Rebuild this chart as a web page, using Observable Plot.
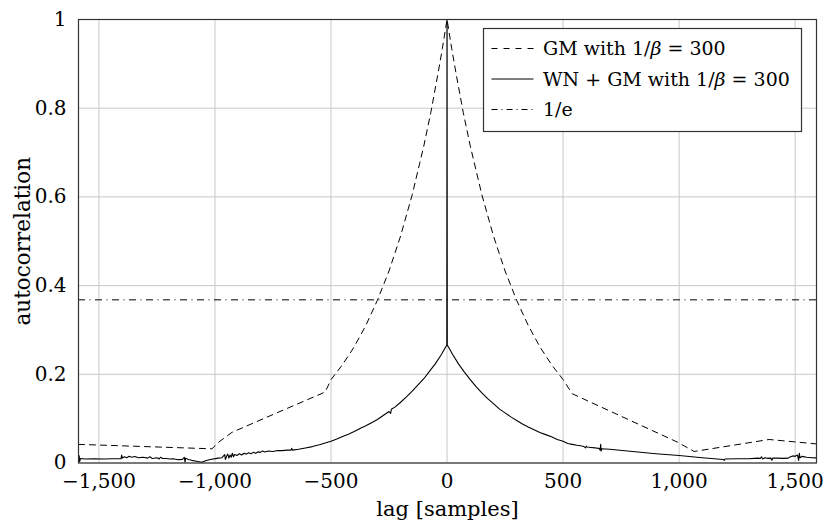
<!DOCTYPE html>
<html>
<head>
<meta charset="utf-8">
<script src="https://cdn.jsdelivr.net/npm/d3@7"></script>
<script src="https://cdn.jsdelivr.net/npm/@observablehq/plot@0.6"></script>
<style>
  html, body { margin: 0; padding: 0; background: #fff; }
  #chart { width: 824px; height: 522px; }
</style>
</head>
<body>
<div id="chart"></div>
<script>
// ---- data ----
const xTicks = [-1500, -1000, -500, 0, 500, 1000, 1500];
const yTicks = [0, 0.2, 0.4, 0.6, 0.8, 1];
const xLabel = "lag [samples]";
const yLabel = "autocorrelation";
const invE = 0.3679;

// GM with 1/beta = 300 (dashed)
const gmLag = [-1588, -1013, -984, -927, -725, -525, -500, -450, -400, -350, -300, -250, -200, -150, -100, -70, -40, -20, 0,
  20, 40, 70, 100, 150, 200, 250, 300, 350, 400, 450, 500, 540, 993, 1065, 1388, 1592];
const gmVal = [0.042, 0.032, 0.047, 0.069, 0.115, 0.160, 0.188, 0.222, 0.262, 0.310, 0.367, 0.433, 0.512, 0.605, 0.715, 0.790, 0.875, 0.935, 1.0,
  0.935, 0.875, 0.790, 0.715, 0.605, 0.512, 0.433, 0.367, 0.310, 0.262, 0.222, 0.188, 0.156, 0.047, 0.026, 0.053, 0.043];

// WN + GM with 1/beta = 300 (solid)
const wnLag = [
  -1588, -1585, -1583, -1580, -1560, -1520, -1480, -1440, -1405, -1402, -1399, -1390, -1380, -1370, -1360, -1345, -1330, -1310,
  -1290, -1280, -1270, -1250, -1240, -1235, -1225, -1210, -1195, -1180, -1160, -1140, -1132, -1129, -1126, -1115, -1100, -1080,
  -1058, -1040, -1020, -992, -985, -970, -958, -955, -950, -945, -940, -935, -930, -925, -920, -915, -905, -895, -885, -875,
  -865, -855, -845, -835, -825, -815, -805, -795, -785, -770, -750, -730, -710, -690, -672, -669, -666, -640, -610, -580,
  -550, -525, -500, -475, -450, -425, -400, -375, -350, -325, -300, -275, -250, -243, -240, -225, -200, -175, -150, -125,
  -100, -75, -50, -25, -1, 0, 1, 25, 50, 75, 100, 125, 150, 175, 200, 225, 250, 275, 300, 325, 350, 375, 400, 425, 450,
  475, 500, 520, 540, 560, 575, 590, 597, 600, 603, 620, 640, 655, 660, 662, 664, 666, 700, 800, 900, 1000, 1100, 1190,
  1194, 1198, 1250, 1300, 1340, 1350, 1355, 1360, 1370, 1380, 1395, 1400, 1403, 1420, 1450, 1470, 1480, 1490, 1500, 1510,
  1515, 1518, 1521, 1530, 1550, 1570, 1592];
const wnVal = [
  0.009, 0.016, 0.003, 0.010, 0.009, 0.0095, 0.009, 0.0095, 0.0095, 0.018, 0.011, 0.014, 0.012, 0.015, 0.013, 0.0145, 0.012, 0.013,
  0.011, 0.014, 0.010, 0.012, 0.009, 0.013, 0.010, 0.010, 0.009, 0.0095, 0.0075, 0.008, 0.013, 0.002, 0.011, 0.008, 0.006, 0.004,
  0.0015, 0.005, 0.008, 0.0105, 0.011, 0.012, 0.019, 0.008, 0.015, 0.020, 0.011, 0.018, 0.013, 0.022, 0.014, 0.019, 0.017, 0.021, 0.018, 0.022,
  0.020, 0.023, 0.021, 0.024, 0.022, 0.025, 0.024, 0.027, 0.025, 0.027, 0.026, 0.028, 0.028, 0.029, 0.029, 0.033, 0.029, 0.031, 0.034, 0.037,
  0.041, 0.045, 0.049, 0.054, 0.060, 0.065, 0.071, 0.078, 0.084, 0.091, 0.098, 0.107, 0.116, 0.112, 0.121, 0.126, 0.137, 0.149, 0.162, 0.176,
  0.190, 0.207, 0.224, 0.244, 0.266, 1.0, 0.266, 0.244, 0.223, 0.205, 0.188, 0.172, 0.158, 0.145, 0.134, 0.122, 0.113, 0.104, 0.096, 0.088, 0.081, 0.075, 0.069, 0.064, 0.059,
  0.053, 0.049, 0.044, 0.042, 0.040, 0.039, 0.037, 0.034, 0.038, 0.036, 0.035, 0.034, 0.033, 0.029, 0.042, 0.027, 0.032, 0.031, 0.026, 0.021, 0.017, 0.012, 0.008,
  0.006, 0.009, 0.0095, 0.0095, 0.011, 0.010, 0.014, 0.009, 0.012, 0.0105, 0.011, 0.006, 0.011, 0.011, 0.0105, 0.011, 0.014, 0.016, 0.015, 0.018,
  0.006, 0.022, 0.012, 0.015, 0.013, 0.012, 0.0115];

const gm = gmLag.map((x, i) => ({x, y: gmVal[i]}));
const wn = wnLag.map((x, i) => ({x, y: wnVal[i]}));

const FONT = "DejaVu Serif";
const fmtX = d3.format(",");
const fmtY = d => (d === 0 ? "0" : d === 1 ? "1" : String(d));

const chart = Plot.plot({
  width: 824,
  height: 522,
  marginLeft: 78,
  marginRight: 8,
  marginTop: 19,
  marginBottom: 59.5,
  style: {fontFamily: FONT, fontSize: "20px", color: "black", background: "white"},
  x: {domain: [-1588, 1592], label: null},
  y: {domain: [0, 1], label: null},
  marks: [
    Plot.gridX(xTicks, {stroke: "#c8c8c8", strokeOpacity: 1, strokeWidth: 1}),
    Plot.gridY(yTicks, {stroke: "#c8c8c8", strokeOpacity: 1, strokeWidth: 1}),
    Plot.axisX(xTicks, {tickSize: 0, tickPadding: 11, tickFormat: fmtX, fontSize: 20, label: null}),
    Plot.axisX({ticks: [], tickSize: 0, fontSize: 21,
      label: xLabel, labelAnchor: "center", labelArrow: "none", labelOffset: 53}),
    Plot.axisY(yTicks, {tickSize: 0, tickPadding: 12, tickFormat: fmtY, fontSize: 20, label: null}),
    Plot.axisY({ticks: [], tickSize: 0, fontSize: 21.5,
      label: yLabel, labelAnchor: "center", labelArrow: "none", labelOffset: 64}),
    Plot.ruleY([invE], {stroke: "black", strokeWidth: 1, strokeDasharray: "7,4.5,1,4.5"}),
    Plot.line(gm, {x: "x", y: "y", stroke: "black", strokeWidth: 1, strokeDasharray: "6,5"}),
    Plot.line(wn, {x: "x", y: "y", stroke: "black", strokeWidth: 1.1}),
    Plot.frame({stroke: "#333", strokeWidth: 1.2})
  ]
});
document.getElementById("chart").appendChild(chart);

// ---- legend ----
const svg = d3.select(chart);
const lg = svg.append("g").attr("font-family", FONT).attr("font-size", 19).attr("fill", "black")
  .attr("text-anchor", "start");
lg.append("rect").attr("x", 483.5).attr("y", 28.5).attr("width", 318).attr("height", 103)
  .attr("fill", "white").attr("stroke", "#333").attr("stroke-width", 1.2);
const entries = [
  {dash: "6,6", y: 48.5, pre: "GM with 1/", post: " = 300"},
  {dash: null, y: 79, pre: "WN + GM with 1/", post: " = 300"},
  {dash: "6,4,1,4", y: 109.5, pre: "1/e", post: null}
];
entries.forEach(e => {
  const ln = lg.append("line").attr("x1", 491.5).attr("x2", 533.5).attr("y1", e.y).attr("y2", e.y)
    .attr("stroke", "black").attr("stroke-width", 1);
  if (e.dash) ln.attr("stroke-dasharray", e.dash);
  const t = lg.append("text").attr("x", 543).attr("y", e.y + 6.5).attr("text-anchor", "start");
  t.append("tspan").text(e.pre);
  if (e.post !== null) {
    t.append("tspan").attr("font-style", "italic").text("β");
    t.append("tspan").text(e.post);
  }
});
</script>
</body>
</html>
